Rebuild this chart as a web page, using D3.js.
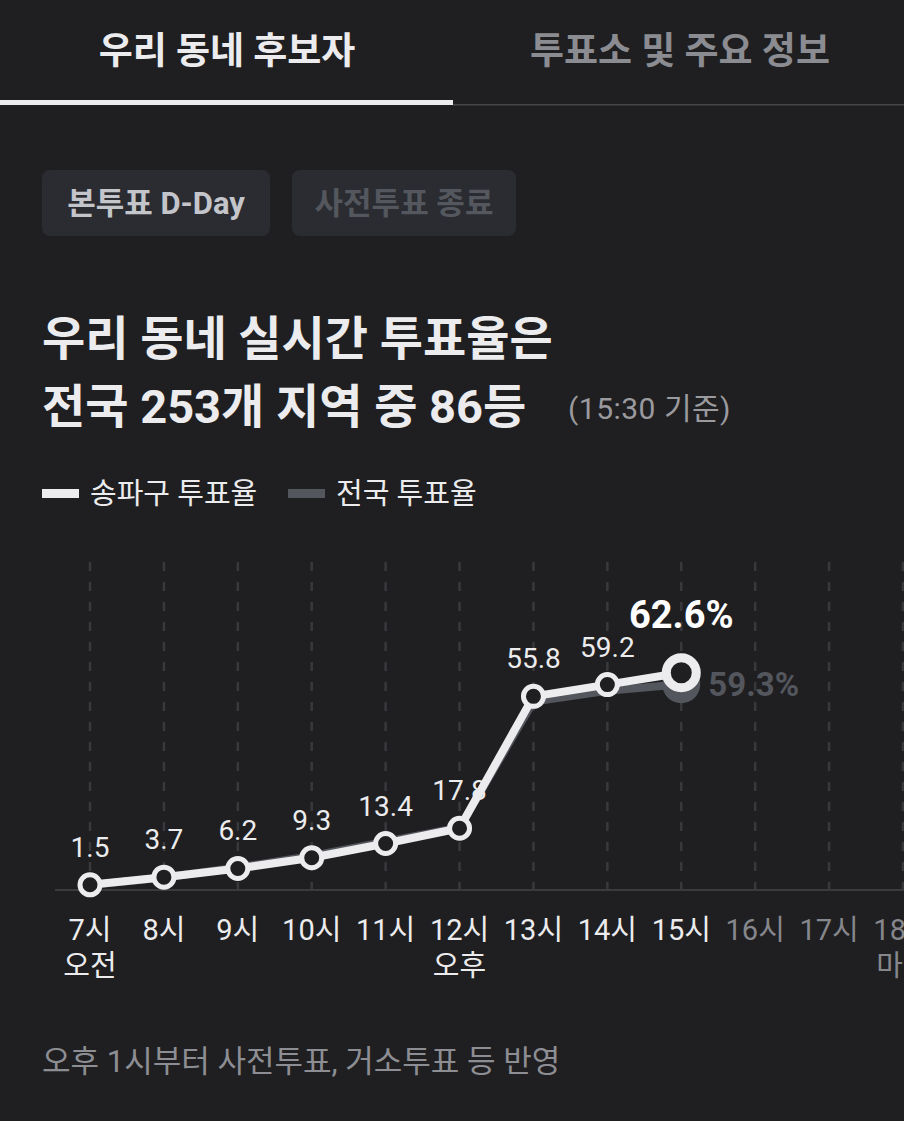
<!DOCTYPE html>
<html>
<head>
<meta charset="utf-8">
<script src="https://cdn.jsdelivr.net/npm/d3@7"></script>
<style>
  html, body { margin: 0; padding: 0; background: #1f1f21; }
  svg { display: block; }
  text { font-family: Roboto, "Noto Sans CJK KR", "Noto Sans", sans-serif; }
</style>
</head>
<body>
<div id="chart"></div>
<script>
'use strict'

// data
const hours = ['7시', '8시', '9시', '10시', '11시', '12시', '13시', '14시', '15시', '16시', '17시', '18시']
const subLabels = ['오전', '', '', '', '', '오후', '', '', '', '', '', '마감']
const localRate = [1.5, 3.7, 6.2, 9.3, 13.4, 17.8, 55.8, 59.2, 62.6]
const nationRate = [1.4, 3.6, 6.5, 9.8, 13.9, 18.0, 54.3, 57.4, 59.3]
const tabs = ['우리 동네 후보자', '투표소 및 주요 정보']
const buttons = ['본투표 D-Day', '사전투표 종료']
const legendNames = ['송파구 투표율', '전국 투표율']

const W = 904, H = 1121
const white = '#ececee', grey = '#53565d', bg = '#1f1f21'

const svg = d3.select('#chart').append('svg')
  .attr('width', W).attr('height', H)

svg.append('rect').attr('width', W).attr('height', H).attr('fill', bg)

// tabs
svg.append('rect').attr('x', 453).attr('y', 104).attr('width', W - 453).attr('height', 1.5).attr('fill', '#45464a')
svg.append('rect').attr('x', 0).attr('y', 100).attr('width', 453).attr('height', 5).attr('fill', white)
svg.selectAll('.tab').data(tabs).enter()
  .append('text')
    .attr('class', 'tab')
    .attr('x', (d, i) => i === 0 ? 227 : 680)
    .attr('y', 64)
    .attr('text-anchor', 'middle')
    .attr('font-size', 37).attr('font-weight', 700)
    .attr('fill', (d, i) => i === 0 ? white : '#8b8c91')
    .text(d => d)

// buttons
const btnX = [42, 292], btnW = [228, 224]
const btn = svg.selectAll('.btn').data(buttons).enter().append('g').attr('class', 'btn')
btn.append('rect')
  .attr('x', (d, i) => btnX[i]).attr('y', 170)
  .attr('width', (d, i) => btnW[i]).attr('height', 66)
  .attr('rx', 8).attr('fill', '#2a2c31')
btn.append('text')
  .attr('x', (d, i) => btnX[i] + btnW[i] / 2).attr('y', 214)
  .attr('text-anchor', 'middle')
  .attr('font-size', 31).attr('font-weight', 700)
  .attr('fill', (d, i) => i === 0 ? '#c3c5cb' : '#54575d')
  .text(d => d)

// title
svg.append('text').attr('x', 42).attr('y', 355)
  .attr('font-size', 47).attr('font-weight', 700).attr('fill', white)
  .text('우리 동네 실시간 투표율은')
svg.append('text').attr('x', 42).attr('y', 423)
  .attr('font-size', 47).attr('font-weight', 700).attr('fill', white)
  .text('전국 253개 지역 중 86등')
svg.append('text').attr('x', 568).attr('y', 419)
  .attr('font-size', 30).attr('letter-spacing', 0.5).attr('fill', '#9a9a9f')
  .text('(15:30 기준)')

// legend
const legX = [42, 288]
const leg = svg.selectAll('.leg').data(legendNames).enter().append('g').attr('class', 'leg')
leg.append('rect')
  .attr('x', (d, i) => legX[i]).attr('y', 489)
  .attr('width', 37).attr('height', 9)
  .attr('fill', (d, i) => i === 0 ? white : grey)
leg.append('text')
  .attr('x', (d, i) => legX[i] + 48).attr('y', 504)
  .attr('font-size', 29).attr('fill', white)
  .text(d => d)

// scales
const x = d3.scalePoint().domain(hours).range([90, 903])
const y = d3.scaleLinear().domain([0, 100]).range([890, 543])

// grid
svg.selectAll('.grid').data(hours).enter()
  .append('line')
    .attr('class', 'grid')
    .attr('x1', d => x(d)).attr('x2', d => x(d))
    .attr('y1', 562).attr('y2', 890)
    .attr('stroke', '#38393c').attr('stroke-width', 2.5)
    .attr('stroke-dasharray', '9 11')

svg.append('line').attr('x1', 55).attr('x2', W).attr('y1', 890).attr('y2', 890)
  .attr('stroke', '#3a3b3e').attr('stroke-width', 2)

// x axis labels
svg.selectAll('.xlab').data(hours).enter()
  .append('text')
    .attr('class', 'xlab')
    .attr('x', d => x(d)).attr('y', 940)
    .attr('text-anchor', 'middle')
    .attr('font-size', 29)
    .attr('fill', (d, i) => i < localRate.length ? white : '#86878c')
    .text(d => d)
svg.selectAll('.xsub').data(subLabels).enter()
  .append('text')
    .attr('class', 'xsub')
    .attr('x', (d, i) => x(hours[i])).attr('y', 976)
    .attr('text-anchor', 'middle')
    .attr('font-size', 29)
    .attr('fill', (d, i) => i < localRate.length ? white : '#86878c')
    .text(d => d)

const line = d3.line().x((d, i) => x(hours[i])).y(d => y(d))

// national series behind
const last = localRate.length - 1
svg.append('path').datum(nationRate)
  .attr('d', line).attr('fill', 'none')
  .attr('stroke', grey).attr('stroke-width', 8).attr('stroke-linejoin', 'round')
svg.append('circle')
  .attr('cx', x(hours[last])).attr('cy', y(nationRate[last])).attr('r', 19)
  .attr('fill', grey)

// local series
svg.append('path').datum(localRate)
  .attr('d', line).attr('fill', 'none')
  .attr('stroke', white).attr('stroke-width', 8).attr('stroke-linejoin', 'round')

svg.selectAll('.dot').data(localRate.slice(0, last)).enter()
  .append('circle')
    .attr('class', 'dot')
    .attr('cx', (d, i) => x(hours[i])).attr('cy', d => y(d))
    .attr('r', 10)
    .attr('fill', bg).attr('stroke', white).attr('stroke-width', 5)
svg.append('circle')
  .attr('cx', x(hours[last])).attr('cy', y(localRate[last])).attr('r', 15)
  .attr('fill', bg).attr('stroke', white).attr('stroke-width', 9)

svg.selectAll('.vlab').data(localRate.slice(0, last)).enter()
  .append('text')
    .attr('class', 'vlab')
    .attr('x', (d, i) => x(hours[i])).attr('y', d => y(d) - 28)
    .attr('text-anchor', 'middle')
    .attr('font-size', 28).attr('fill', white)
    .text(d => d.toFixed(1))

svg.append('text')
  .attr('x', x(hours[last])).attr('y', y(localRate[last]) - 45)
  .attr('text-anchor', 'middle')
  .attr('font-size', 38).attr('font-weight', 700).attr('fill', '#ffffff')
  .text(localRate[last].toFixed(1) + '%')
svg.append('text')
  .attr('x', x(hours[last]) + 27).attr('y', y(nationRate[last]) + 12)
  .attr('font-size', 33).attr('font-weight', 700).attr('fill', grey)
  .text(nationRate[last].toFixed(1) + '%')

// footnote
svg.append('text').attr('x', 42).attr('y', 1072)
  .attr('font-size', 31).attr('fill', '#8d8e93')
  .text('오후 1시부터 사전투표, 거소투표 등 반영')
</script>
</body>
</html>
